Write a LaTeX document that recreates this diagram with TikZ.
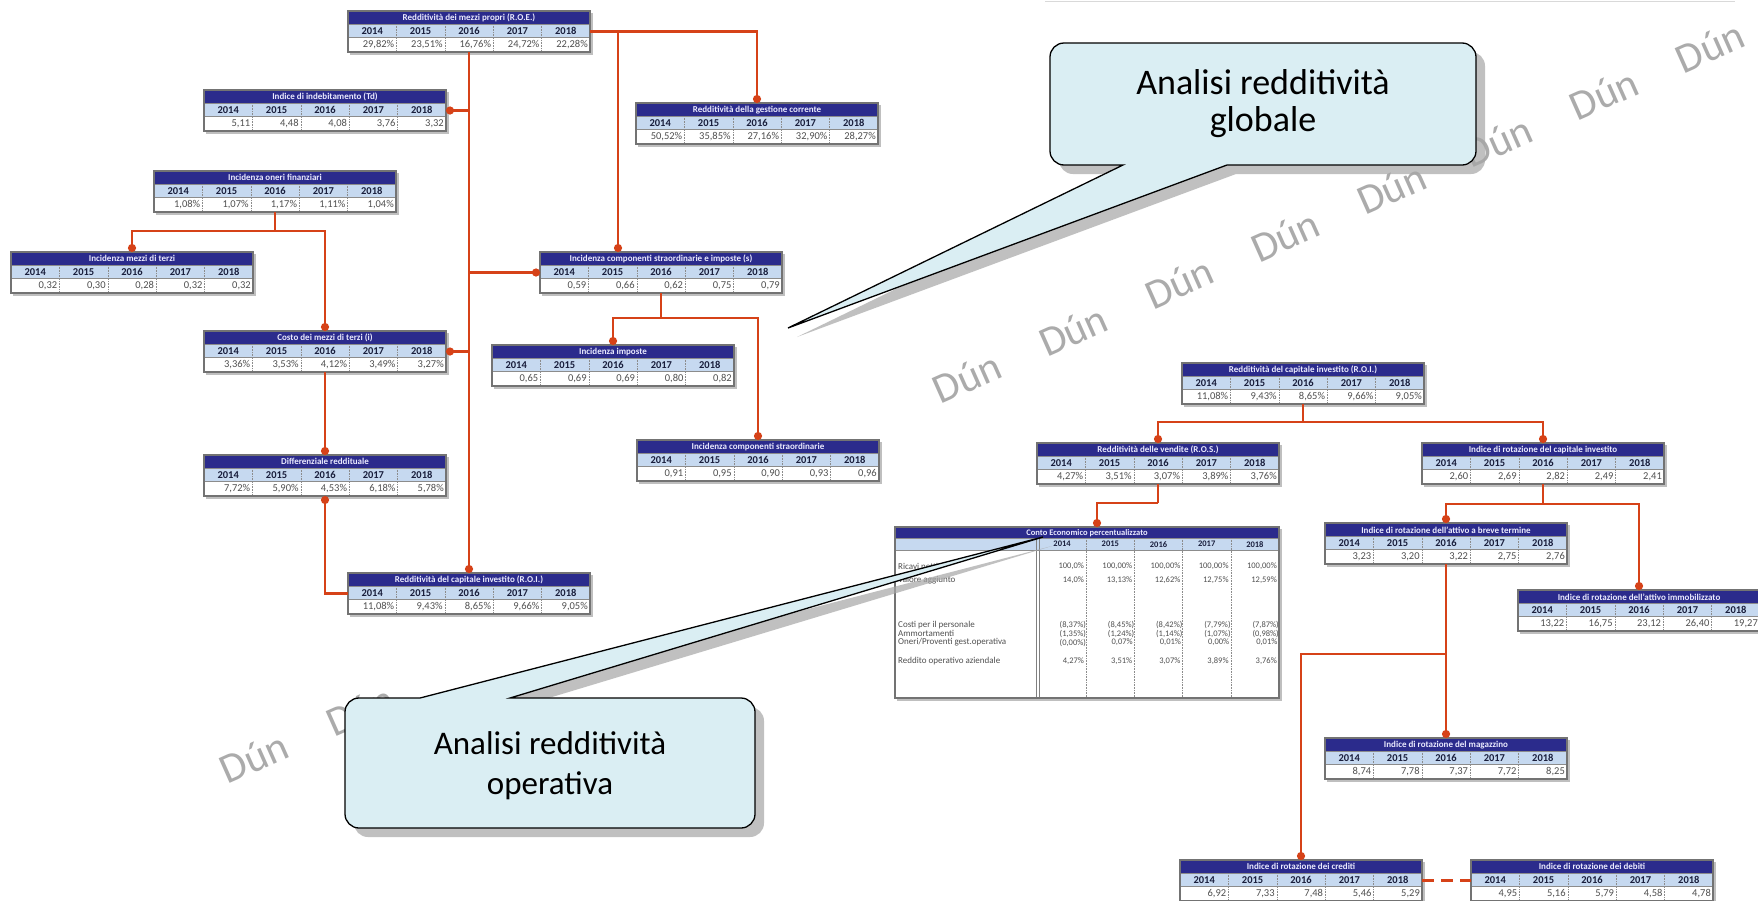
\documentclass[tikz,border=0pt]{standalone}
\usepackage{fontspec}
\setmainfont{Carlito}
\usetikzlibrary{arrows.meta,calc}

\definecolor{blutitolo}{RGB}{43,43,140}
\definecolor{azzurro}{RGB}{198,217,240}
\definecolor{arancio}{RGB}{214,66,24}
\definecolor{celeste}{RGB}{218,238,243}
\definecolor{testoval}{RGB}{80,80,80}
\definecolor{testoanno}{RGB}{25,30,60}

\tikzset{
	tabnodo/.style={anchor=north west, minimum height=41, inner sep=0pt, outer sep=0pt},
	titolotxt/.style={text=white!92!blue, font=\fontsize{9}{10}\selectfont\bfseries, inner sep=0pt},
	annotxt/.style={text=testoanno, font=\fontsize{10.5}{11}\selectfont\bfseries, inner sep=0pt},
	valtxt/.style={text=testoval, font=\fontsize{10.5}{11}\selectfont, inner sep=0pt, anchor=east},
	annoce/.style={text=testoanno, font=\fontsize{8.5}{9}\selectfont\bfseries, inner sep=0pt},
	vocece/.style={text=testoval, font=\fontsize{9}{10}\selectfont, inner sep=0pt, anchor=west},
	valce/.style={text=testoval, font=\fontsize{8.5}{9}\selectfont, inner sep=0pt, anchor=east},
	sepcol/.style={black!45, densely dotted, line width=0.6},
	bordotab/.style={draw=black!55, line width=1.3},
	linea/.style={arancio, line width=2.6},
	collega/.style={linea, -{Circle[length=8pt,width=8pt]}},
	fumetto/.style={draw=black, line width=1.3, fill=celeste,
		preaction={fill=black!35, opacity=0.7, transform canvas={xshift=9pt, yshift=-9pt}}},
	fumettotxt/.style={align=center, font=\fontsize{36}{37}\selectfont, inner sep=0pt},
	filigrana/.style={text=black!33, font=\fontsize{42}{42}\selectfont, rotate=24, anchor=west, inner sep=0pt},
}

% tabella: nome, angolo in alto a sinistra, larghezza, titolo, valori
\newcommand{\tabella}[5]{%
	\node[tabnodo, minimum width=#3] (#1) at (#2) {};
	\begin{scope}[shift={(#1.north west)}]
		\fill[black!25] ( 2, 2 ) rectangle ( #3+2.5, 43.5 );
		\fill[white] ( 0, 0 ) rectangle ( #3, 41 );
		\fill[blutitolo] ( 0, 0 ) rectangle ( #3, 13 );
		\fill[azzurro] ( 0, 13 ) rectangle ( #3, 26 );
		\node[titolotxt] (#1-tit) at ( {#3/2}, 6.8 ) {#4};
		\foreach \anno [count=\i] in {2014,...,2018}
			\node[annotxt] (#1-a\i) at ( {(\i-0.5)*#3/5}, 19.8 ) {\anno};
		\foreach \val [count=\i] in {#5}
			\node[valtxt] (#1-v\i) at ( {\i*#3/5-2}, 33.8 ) {\val};
		\foreach \i in {1,...,4}
			\draw[sepcol] ( {\i*#3/5}, 13 ) -- ( {\i*#3/5}, 41 );
		\draw[black!45, line width=0.8] ( 0, 13 ) -- ( #3, 13 ) ( 0, 26 ) -- ( #3, 26 );
		\draw[bordotab] ( 0, 0 ) rectangle ( #3, 41 );
	\end{scope}
}

\begin{document}
\begin{tikzpicture}[x=1pt, y=-1pt]
	\useasboundingbox ( 0, 0 ) rectangle ( 1758, 900 );
	\fill[white] ( 0, 0 ) rectangle ( 1758, 900 );
	\draw[black!15, line width=1] ( 1045, 1.5 ) -- ( 1735, 1.5 );

	% filigrana
	\node[filigrana] (filA) at ( 935, 392 ) {Dún\hspace{1.1em}Dún\hspace{1.1em}Dún\hspace{1.1em}Dún\hspace{1.1em}Dún\hspace{1.1em}Dún\hspace{1.1em}Dún\hspace{1.1em}Dún};
	\node[filigrana] (filB) at ( 222, 772 ) {Dún\hspace{1.1em}Dún};

	% albero del R.O.E.
	\tabella{roe}{348,11}{242}{Redditività dei mezzi propri (R.O.E.)}{{29,82\%},{23,51\%},{16,76\%},{24,72\%},{22,28\%}}
	\tabella{td}{204,90}{242}{Indice di indebitamento (Td)}{{5,11},{4,48},{4,08},{3,76},{3,32}}
	\tabella{gest}{636,103}{242}{Redditività della gestione corrente}{{50,52\%},{35,85\%},{27,16\%},{32,90\%},{28,27\%}}
	\tabella{oneri}{154,171}{242}{Incidenza oneri finanziari}{{1,08\%},{1,07\%},{1,17\%},{1,11\%},{1,04\%}}
	\tabella{terzi}{11,252}{242}{Incidenza mezzi di terzi}{{0,32},{0,30},{0,28},{0,32},{0,32}}
	\tabella{s}{540,252}{242}{Incidenza componenti straordinarie e imposte (s)}{{0,59},{0,66},{0,62},{0,75},{0,79}}
	\tabella{costo}{204,331}{242}{Costo dei mezzi di terzi (i)}{{3,36\%},{3,53\%},{4,12\%},{3,49\%},{3,27\%}}
	\tabella{imposte}{492,345}{242}{Incidenza imposte}{{0,65},{0,69},{0,69},{0,80},{0,82}}
	\tabella{straord}{637,440}{242}{Incidenza componenti straordinarie}{{0,91},{0,95},{0,90},{0,93},{0,96}}
	\tabella{diff}{204,455}{242}{Differenziale reddituale}{{7,72\%},{5,90\%},{4,53\%},{6,18\%},{5,78\%}}
	\tabella{roi}{348,573}{242}{Redditività del capitale investito (R.O.I.)}{{11,08\%},{9,43\%},{8,65\%},{9,66\%},{9,05\%}}

	% albero del R.O.I.
	\tabella{roidx}{1182,363}{242}{Redditività del capitale investito (R.O.I.)}{{11,08\%},{9,43\%},{8,65\%},{9,66\%},{9,05\%}}
	\tabella{ros}{1037,443}{242}{Redditività delle vendite (R.O.S.)}{{4,27\%},{3,51\%},{3,07\%},{3,89\%},{3,76\%}}
	\tabella{cap}{1422,443}{242}{Indice di rotazione del capitale investito}{{2,60},{2,69},{2,82},{2,49},{2,41}}
	\tabella{breve}{1325,523}{242}{Indice di rotazione dell'attivo a breve termine}{{3,23},{3,20},{3,22},{2,75},{2,76}}
	\tabella{immob}{1518,590}{242}{Indice di rotazione dell'attivo immobilizzato}{{13,22},{16,75},{23,12},{26,40},{19,27}}
	\tabella{magaz}{1325,738}{242}{Indice di rotazione del magazzino}{{8,74},{7,78},{7,37},{7,72},{8,25}}
	\tabella{crediti}{1180,860}{242}{Indice di rotazione dei crediti}{{6,92},{7,33},{7,48},{5,46},{5,29}}
	\tabella{debiti}{1471,860}{242}{Indice di rotazione dei debiti}{{4,95},{5,16},{5,79},{4,58},{4,78}}

	% conto economico percentualizzato
	\node[tabnodo, minimum width=384, minimum height=171] (ce) at ( 895, 527 ) {};
	\begin{scope}[shift={(ce.north west)}]
		\fill[black!25] ( 2, 2 ) rectangle ( 386.5, 173.5 );
		\fill[white] ( 0, 0 ) rectangle ( 384, 171 );
		\fill[blutitolo] ( 0, 0 ) rectangle ( 384, 11 );
		\fill[azzurro] ( 0, 11 ) rectangle ( 384, 23 );
		\node[titolotxt, font=\fontsize{8.5}{9}\selectfont\bfseries] (ce-tit) at ( 192, 5.8 ) {Conto Economico percentualizzato};
		\foreach \anno [count=\i] in {2014,...,2018}
			\node[annoce] (ce-a\i) at ( {143+48.2*(\i-0.5)}, 17.2 ) {\anno};
		\foreach \yy/\voce [count=\r] in {39/Ricavi netti, 53/Valore aggiunto, 98/Costi per il personale, 106.5/Ammortamenti, 115.5/{Oneri/Proventi gest.operativa}, 134/Reddito operativo aziendale}
			\node[vocece] (ce-r\r) at ( 3, \yy ) {\voce};
		\foreach \val [count=\i] in {{100,0\%},{100,00\%},{100,00\%},{100,00\%},{100,00\%}}
			\node[valce] (ce-ra\i) at ( {143+48.2*\i-2}, 39 ) {\val};
		\foreach \val [count=\i] in {{14,0\%},{13,13\%},{12,62\%},{12,75\%},{12,59\%}}
			\node[valce] (ce-va\i) at ( {143+48.2*\i-2}, 53 ) {\val};
		\foreach \val [count=\i] in {{(8,37\%)},{(8,45\%)},{(8,42\%)},{(7,79\%)},{(7,87\%)}}
			\node[valce] (ce-cp\i) at ( {143+48.2*\i}, 98 ) {\val};
		\foreach \val [count=\i] in {{(1,35\%)},{(1,24\%)},{(1,14\%)},{(1,07\%)},{(0,98\%)}}
			\node[valce] (ce-am\i) at ( {143+48.2*\i}, 106.5 ) {\val};
		\foreach \val [count=\i] in {{(0,00\%)},{0,07\%\,},{0,01\%\,},{0,00\%\,},{0,01\%\,}}
			\node[valce] (ce-op\i) at ( {143+48.2*\i}, 115.5 ) {\val};
		\foreach \val [count=\i] in {{4,27\%},{3,51\%},{3,07\%},{3,89\%},{3,76\%}}
			\node[valce] (ce-ro\i) at ( {143+48.2*\i-2}, 134 ) {\val};
		\foreach \i in {1,...,4}
			\draw[sepcol] ( {143+48.2*\i}, 11 ) -- ( {143+48.2*\i}, 171 );
		\draw[black!50, line width=0.8] ( 141.5, 11 ) -- ( 141.5, 171 ) ( 144.5, 11 ) -- ( 144.5, 171 );
		\draw[black!45, line width=0.8] ( 0, 11 ) -- ( 384, 11 ) ( 0, 23 ) -- ( 384, 23 );
		\draw[bordotab] ( 0, 0 ) rectangle ( 384, 171 );
	\end{scope}

	% collegamenti R.O.E.
	\draw[collega] (roe.south) -- (roi.north);
	\draw[collega] (td.east -| roe.south) -- (td.east);
	\draw[collega] (costo.east -| roe.south) -- (costo.east);
	\draw[collega] (s.west -| roe.south) -- (s.west);
	\draw[collega] (roe.east) -| (gest.north);
	\coordinate (sa) at ($(s.north west) + (78,0)$);
	\draw[collega] (sa |- roe.east) -- (sa);
	\draw[linea] (oneri.south) -- ++(0,19) coordinate (oa);
	\draw[collega] (oa) -| (terzi.north);
	\draw[collega] (oa) -| (costo.north);
	\draw[collega] (costo.south) -- (diff.north);
	\draw[collega] (roi.west) -| (diff.south);
	\draw[linea] (s.south) -- ++(0,25) coordinate (sb);
	\draw[collega] (sb) -| (imposte.north);
	\draw[collega] (sb) -| (straord.north);

	% collegamenti R.O.I.
	\draw[linea] (roidx.south) -- ++(0,18) coordinate (ra);
	\draw[collega] (ra) -| (ros.north);
	\draw[collega] (ra) -| (cap.north);
	\draw[linea] (ros.south) -- ++(0,19) coordinate (rb);
	\draw[collega] (rb) -| ($(ce.north) + (10,0)$);
	\draw[linea] (cap.south) -- ++(0,20) coordinate (ca);
	\draw[collega] (ca) -| (breve.north);
	\draw[collega] (ca) -| (immob.north);
	\draw[collega] (breve.south) -- (magaz.north);
	\draw[linea] (breve.south) -- ++(0,90) coordinate (ba);
	\draw[collega] (ba) -| (crediti.north);
	\draw[linea, dash pattern=on 12pt off 7pt] (crediti.east) -- (debiti.west);

	% fumetti
	\path[fumetto] ( 1123, 165 ) [rounded corners=14] -- ( 1050, 165 ) -- ( 1050, 43 ) -- ( 1476, 43 ) -- ( 1476, 165 ) [sharp corners] -- ( 1227, 165 ) -- ( 788, 328 ) -- cycle;
	\node[fumettotxt] (globale) at ( 1263, 104 ) {Analisi redditività\\globale};
	\path[fumetto] ( 510, 698 ) [rounded corners=14] -- ( 755, 698 ) -- ( 755, 828 ) -- ( 345, 828 ) -- ( 345, 698 ) [sharp corners] -- ( 420, 698 ) -- ( 1043, 537 ) -- cycle;
	\node[fumettotxt, font=\fontsize{33}{40}\selectfont] (operativa) at ( 550, 766 ) {Analisi redditività\\operativa};
\end{tikzpicture}
\end{document}
